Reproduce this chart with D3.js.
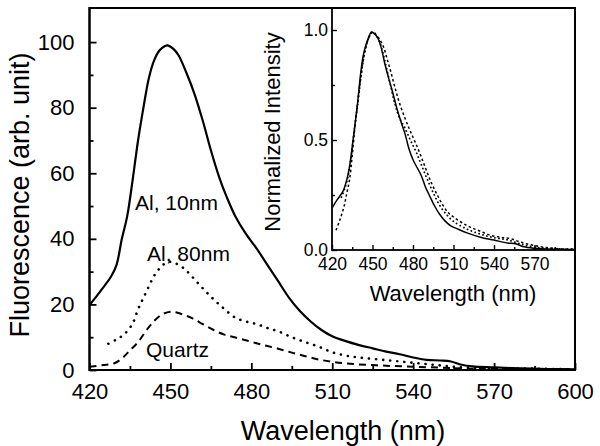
<!DOCTYPE html>
<html>
<head>
<meta charset="utf-8">
<script src="https://cdn.jsdelivr.net/npm/d3@7/dist/d3.min.js"></script>
<style>
  html, body { margin: 0; padding: 0; background: #fff; }
  svg { display: block; }
  text { font-family: "Liberation Sans", Arial, Helvetica, sans-serif; fill: #000; }
</style>
</head>
<body>
<svg id="chart" width="600" height="446"></svg>
<script>
// ---------- DATA ----------
// Main panel: wavelength (nm), fluorescence (arb. unit)
const al10nm = [[420,19.8],[424,24],[428,28.5],[430,32],[432,40],[434,47],[436,58],[438,70],[440,80],[442,89],[444,94.5],[446,97.5],[448,98.8],[449,99],[451,98],[453,96],[456,90.5],[459,84],[462,76],[465,67],[468,59],[471,52.5],[474,47],[478,41.5],[482,37],[486,32],[490,27],[494,22],[498,18],[502,14.8],[506,12.2],[510,10.3],[515,8.8],[520,7.6],[525,6.6],[530,5.6],[535,4.8],[540,3.8],[545,3.1],[550,2.9],[554,2.6],[558,1.6],[562,1.1],[570,0.8],[580,0.5],[590,0.3],[600,0.2]];
const al80nm = [[427,8],[430,9.3],[433,11],[436,14.2],[438,18.5],[440,22],[442,25.5],[444,28.8],[446,31],[448,32.5],[450,33],[452,32.5],[455,31],[458,28.5],[461,25.8],[464,23.2],[467,20.8],[470,18.6],[474,16],[478,14.8],[482,14],[486,12.8],[490,11.8],[495,10],[500,8.5],[505,7.1],[510,5.4],[515,4.4],[520,3.8],[530,3],[540,2.2],[550,1.4],[560,0.7],[570,0.5],[585,0.4],[600,0.2]];
const quartz = [[420,1.0],[425,1.5],[429,2.0],[432,3.5],[435,6],[438,8.5],[441,12],[444,15],[447,17],[450,17.8],[452,17.6],[455,16.8],[458,15.8],[462,14],[466,12.2],[470,10.8],[475,9.7],[480,8.6],[485,7.5],[490,6.5],[495,5.3],[500,4.2],[505,3.2],[510,2.5],[515,2],[520,1.7],[530,1.3],[540,1.0],[550,0.7],[560,0.4],[580,0.3],[600,0.2]];

// Inset: normalized intensity
const insetAl10 = [[420,0.19],[424,0.23],[428,0.265],[431,0.32],[433,0.38],[435,0.47],[437,0.57],[439,0.67],[441,0.79],[443,0.88],[445,0.93],[447,0.965],[449,0.99],[450,0.99],[452,0.98],[454,0.963],[456,0.93],[459,0.85],[462,0.78],[465,0.715],[468,0.645],[471,0.585],[474,0.53],[477,0.46],[480,0.41],[483,0.375],[486,0.34],[489,0.29],[492,0.25],[496,0.2],[500,0.16],[504,0.13],[508,0.11],[514,0.093],[520,0.078],[530,0.058],[540,0.045],[550,0.032],[556,0.028],[562,0.015],[570,0.008],[580,0.004],[600,0.002]];
const insetAl80 = [[427,0.24],[430,0.29],[433,0.37],[436,0.52],[439,0.66],[442,0.81],[445,0.92],[448,0.975],[450,0.99],[452,0.98],[455,0.95],[458,0.89],[461,0.81],[464,0.73],[467,0.655],[470,0.6],[474,0.555],[478,0.5],[482,0.45],[486,0.39],[490,0.33],[495,0.26],[500,0.2],[505,0.16],[510,0.13],[520,0.095],[530,0.072],[540,0.056],[550,0.046],[560,0.027],[570,0.013],[585,0.006],[600,0.003]];
const insetQuartz = [[423,0.09],[426,0.14],[429,0.2],[431,0.26],[433,0.32],[435,0.43],[437,0.56],[439,0.67],[441,0.77],[443,0.86],[445,0.92],[447,0.96],[449,0.985],[451,0.99],[453,0.975],[455,0.96],[458,0.925],[461,0.865],[464,0.8],[467,0.73],[470,0.668],[474,0.6],[478,0.54],[482,0.485],[486,0.425],[490,0.36],[494,0.30],[498,0.25],[502,0.205],[506,0.17],[510,0.15],[516,0.125],[522,0.105],[530,0.085],[538,0.066],[545,0.058],[552,0.052],[560,0.035],[570,0.02],[580,0.01],[590,0.005],[600,0.003]];

// Tick values and labels
const mainXTicks = [420,450,480,510,540,570,600];
const mainXMinor = [435,465,495,525,555,585];
const mainYTicks = [0,20,40,60,80,100];
const mainYMinor = [10,30,50,70,90];
const insetXTicks = [420,450,480,510,540,570];
const insetXMinor = [435,465,495,525,555,585];
const insetYTicks = [0.0,0.5,1.0];
const insetYMinor = [0.25,0.75];

const labels = {
  xTitle: "Wavelength (nm)",
  yTitle: "Fluorescence (arb. unit)",
  insetX: "Wavelength (nm)",
  insetY: "Normalized Intensity",
  al10: "Al, 10nm",
  al80: "Al, 80nm",
  quartz: "Quartz"
};

// ---------- LAYOUT ----------
const svg = d3.select("#chart");
const M = { left: 89.5, right: 575, top: 8, bottom: 370 };
const I = { left: 332, right: 575, top: 8, bottom: 250 };

const x = d3.scaleLinear().domain([420, 600]).range([M.left, M.right]);
const y = d3.scaleLinear().domain([0, 110.4]).range([M.bottom, M.top]);
const xi = d3.scaleLinear().domain([420, 600]).range([I.left, I.right]);
const yi = d3.scaleLinear().domain([0, 1.1]).range([I.bottom, I.top]);

const curve = d3.curveCatmullRom.alpha(0.5);
const lineMain = d3.line().x(d => x(d[0])).y(d => y(d[1])).curve(curve);
const lineInset = d3.line().x(d => xi(d[0])).y(d => yi(d[1])).curve(curve);

// ---------- MAIN PANEL ----------
const main = svg.append("g");
main.append("clipPath").attr("id", "clipMain").append("rect")
  .attr("x", M.left).attr("y", M.top).attr("width", M.right - M.left).attr("height", M.bottom - M.top);

const mg = main.append("g").attr("clip-path", "url(#clipMain)");
mg.append("path").datum(al10nm).attr("d", lineMain)
  .attr("fill", "none").attr("stroke", "#000").attr("stroke-width", 2.2);
mg.append("path").datum(al80nm).attr("d", lineMain)
  .attr("fill", "none").attr("stroke", "#000").attr("stroke-width", 2.6)
  .attr("stroke-dasharray", "0.1,7").attr("stroke-linecap", "round");
mg.append("path").datum(quartz).attr("d", lineMain)
  .attr("fill", "none").attr("stroke", "#000").attr("stroke-width", 2)
  .attr("stroke-dasharray", "7,5");

// axes (ticks inward)
const xAxis = d3.axisBottom(x).tickValues(mainXTicks).tickSize(-7).tickPadding(13).tickFormat(d3.format("d"));
const xAxisMinor = d3.axisBottom(x).tickValues(mainXMinor).tickSize(-4).tickFormat("");
const yAxis = d3.axisLeft(y).tickValues(mainYTicks).tickSize(-7).tickPadding(15).tickFormat(d3.format("d"));
const yAxisMinor = d3.axisLeft(y).tickValues(mainYMinor).tickSize(-4).tickFormat("");

function styleAxis(g, fontSize) {
  g.select(".domain").remove();
  g.selectAll(".tick line").attr("stroke", "#000").attr("stroke-width", 1.8);
  g.selectAll(".tick text").attr("font-size", fontSize).attr("fill", "#000")
    .attr("font-family", '"Liberation Sans", Arial, sans-serif');
}
main.append("g").attr("transform", `translate(0,${M.bottom})`).call(xAxis).call(g => styleAxis(g, 22));
main.append("g").attr("transform", `translate(0,${M.bottom})`).call(xAxisMinor).call(g => styleAxis(g, 22));
main.append("g").attr("transform", `translate(${M.left},0)`).call(yAxis).call(g => styleAxis(g, 22));
main.append("g").attr("transform", `translate(${M.left},0)`).call(yAxisMinor).call(g => styleAxis(g, 22));

main.append("rect").attr("x", M.left).attr("y", M.top)
  .attr("width", M.right - M.left).attr("height", M.bottom - M.top)
  .attr("fill", "none").attr("stroke", "#000").attr("stroke-width", 2);

// titles
main.append("text").attr("x", 343).attr("y", 440).attr("text-anchor", "middle")
  .attr("font-size", 27).text(labels.xTitle);
main.append("text").attr("transform", "translate(29,195) rotate(-90)").attr("text-anchor", "middle")
  .attr("font-size", 27).text(labels.yTitle);

// annotations
main.append("text").attr("x", 135).attr("y", 210).attr("font-size", 21).text(labels.al10);
main.append("text").attr("x", 147).attr("y", 261).attr("font-size", 21).text(labels.al80);
main.append("text").attr("x", 146).attr("y", 357).attr("font-size", 21).text(labels.quartz);

// ---------- INSET ----------
const inset = svg.append("g");
inset.append("rect").attr("x", I.left).attr("y", I.top)
  .attr("width", I.right - I.left).attr("height", I.bottom - I.top).attr("fill", "#fff");
inset.append("clipPath").attr("id", "clipInset").append("rect")
  .attr("x", I.left).attr("y", I.top).attr("width", I.right - I.left).attr("height", I.bottom - I.top);
const ig = inset.append("g").attr("clip-path", "url(#clipInset)");
ig.append("path").datum(insetAl10).attr("d", lineInset)
  .attr("fill", "none").attr("stroke", "#000").attr("stroke-width", 1.5);
ig.append("path").datum(insetAl80).attr("d", lineInset)
  .attr("fill", "none").attr("stroke", "#000").attr("stroke-width", 1.8)
  .attr("stroke-dasharray", "0.1,4").attr("stroke-linecap", "round");
ig.append("path").datum(insetQuartz).attr("d", lineInset)
  .attr("fill", "none").attr("stroke", "#000").attr("stroke-width", 1.5)
  .attr("stroke-dasharray", "2.5,2.5");

const ixAxis = d3.axisBottom(xi).tickValues(insetXTicks).tickSize(-5).tickPadding(8).tickFormat(d3.format("d"));
const ixAxisMinor = d3.axisBottom(xi).tickValues(insetXMinor).tickSize(-3).tickFormat("");
const iyAxis = d3.axisLeft(yi).tickValues(insetYTicks).tickSize(-5).tickPadding(4).tickFormat(d3.format(".1f"));
const iyAxisMinor = d3.axisLeft(yi).tickValues(insetYMinor).tickSize(-3).tickFormat("");
inset.append("g").attr("transform", `translate(0,${I.bottom})`).call(ixAxis).call(g => styleAxis(g, 17.5));
inset.append("g").attr("transform", `translate(0,${I.bottom})`).call(ixAxisMinor).call(g => styleAxis(g, 17.5));
inset.append("g").attr("transform", `translate(${I.left},0)`).call(iyAxis).call(g => styleAxis(g, 17.5));
inset.append("g").attr("transform", `translate(${I.left},0)`).call(iyAxisMinor).call(g => styleAxis(g, 17.5));
inset.selectAll(".tick line").attr("stroke-width", 1.4);

inset.append("rect").attr("x", I.left).attr("y", I.top)
  .attr("width", I.right - I.left).attr("height", I.bottom - I.top)
  .attr("fill", "none").attr("stroke", "#000").attr("stroke-width", 1.8);

inset.append("text").attr("x", 453).attr("y", 301).attr("text-anchor", "middle")
  .attr("font-size", 22).text(labels.insetX);
inset.append("text").attr("transform", "translate(280,132) rotate(-90)").attr("text-anchor", "middle")
  .attr("font-size", 22).text(labels.insetY);

// main border re-stroke on top of inset fill
svg.append("rect").attr("x", M.left).attr("y", M.top)
  .attr("width", M.right - M.left).attr("height", M.bottom - M.top)
  .attr("fill", "none").attr("stroke", "#000").attr("stroke-width", 2);
</script>
</body>
</html>
